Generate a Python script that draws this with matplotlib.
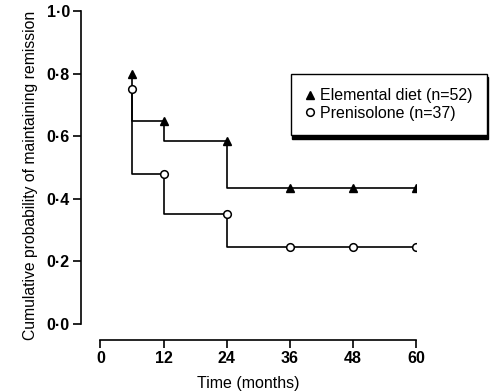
import matplotlib
matplotlib.use('Agg')
import matplotlib.pyplot as plt

# dados (probabilidade acumulada de manter remissao)
meses = [6, 12, 24, 36, 48, 60]
prob_elemental = [0.80, 0.65, 0.585, 0.435, 0.435, 0.435]
prob_prednisolona = [0.75, 0.48, 0.35, 0.245, 0.245, 0.245]
ticks_x = [0, 12, 24, 36, 48, 60]
ticks_y = [0.0, 0.2, 0.4, 0.6, 0.8, 1.0]
rotulos_y = ['0\u00b70', '0\u00b72', '0\u00b74', '0\u00b76', '0\u00b78', '1\u00b70']
legenda = ['Elemental diet (n=52)', 'Prenisolone (n=37)']

plt.rcParams['font.family'] = ['Liberation Sans', 'DejaVu Sans']
tam = 11.5

fig = plt.figure(figsize=(4.9, 3.91), dpi=100)
ax = fig.add_axes([81/490, 51/391, (416-81)/490, (340-11)/391])
ax.set_xlim(-3.7, 60)
ax.set_ylim(-0.051, 1.0)

def escada(y):
#	linha em degraus: cai logo apos cada marcador
	return [meses[0]] + meses, [y[0]] + y[1:] + [y[-1]]

x, y = escada(prob_elemental)
ax.step(x, y, where='post', color='black', lw=1.2, zorder=2)
x, y = escada(prob_prednisolona)
ax.step(x, y, where='post', color='black', lw=1.2, zorder=2)

tri, = ax.plot(meses, prob_elemental, linestyle='none', marker='^', ms=5.5,
               color='black', zorder=3)
circ, = ax.plot(meses, prob_prednisolona, linestyle='none', marker='o', ms=5.5,
                mfc='white', mec='black', mew=1.1, zorder=4)

for lado in ['top', 'right']:
	ax.spines[lado].set_visible(False)
ax.spines['left'].set_bounds(0, 1.0)
ax.spines['bottom'].set_bounds(0, 60)
ax.spines['left'].set_linewidth(1.2)
ax.spines['bottom'].set_linewidth(1.2)

ax.set_xticks(ticks_x)
ax.set_xticklabels([str(t) for t in ticks_x], fontweight='bold', fontsize=tam)
ax.set_yticks(ticks_y)
ax.set_yticklabels(rotulos_y, fontweight='bold', fontsize=tam)
ax.tick_params(axis='both', direction='out', length=6, width=1.2, pad=2)

ax.set_xlabel('Time (months)', fontsize=tam, labelpad=7)
ax.set_ylabel('Cumulative probability of maintaining remission', fontsize=11.3, labelpad=6)

leg = fig.legend([tri, circ], legenda, loc='upper left',
                 bbox_to_anchor=(291/490, 1 - 74/391), fontsize=tam,
                 frameon=True, fancybox=False, handlelength=0.6,
                 handletextpad=0.3, borderpad=0.9, labelspacing=0.15,
                 borderaxespad=0,
                 shadow={'color': 'black', 'alpha': 1, 'ox': 1.0, 'oy': -2.5})
leg.get_frame().set_edgecolor('black')
leg.get_frame().set_linewidth(1.0)

fig.savefig('out.png', dpi=100)
